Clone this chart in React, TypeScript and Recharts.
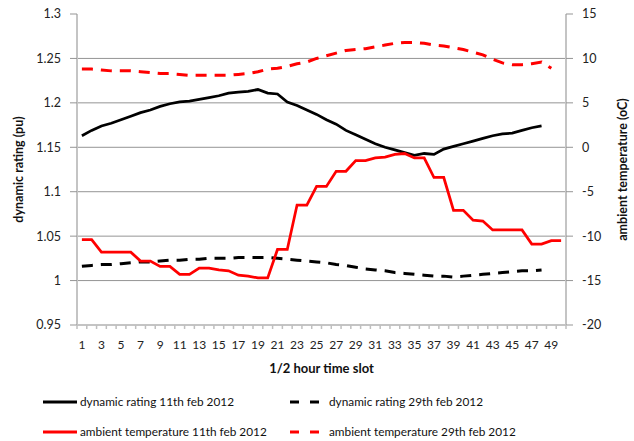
import React from 'react'
import { LineChart, Line, XAxis, YAxis, CartesianGrid, Legend } from 'recharts'

const FONT = 'Lato, "Open Sans", sans-serif'

// half-hour slots 1..50
const slots = [
  1, 2, 3, 4, 5, 6, 7, 8, 9, 10, 11, 12, 13, 14, 15, 16, 17, 18, 19, 20, 21, 22, 23, 24, 25,
  26, 27, 28, 29, 30, 31, 32, 33, 34, 35, 36, 37, 38, 39, 40, 41, 42, 43, 44, 45, 46, 47, 48, 49, 50,
]

// dynamic rating (pu)
const ratingFeb11 = [
  1.163, 1.169, 1.174, 1.177, 1.181, 1.185, 1.189, 1.192, 1.196, 1.199, 1.201, 1.202, 1.204, 1.206,
  1.208, 1.211, 1.212, 1.213, 1.215, 1.211, 1.21, 1.201, 1.197, 1.192, 1.187, 1.181, 1.176, 1.169,
  1.164, 1.159, 1.154, 1.15, 1.147, 1.144, 1.141, 1.143, 1.142, 1.148, 1.151, 1.154, 1.157, 1.16,
  1.163, 1.165, 1.166, 1.169, 1.172, 1.174,
]
const ratingFeb29 = [
  1.016, 1.017, 1.018, 1.018, 1.019, 1.02, 1.021, 1.021, 1.022, 1.023, 1.023, 1.024, 1.024, 1.025,
  1.025, 1.025, 1.026, 1.026, 1.026, 1.026, 1.025, 1.024, 1.023, 1.022, 1.021, 1.02, 1.018, 1.017,
  1.015, 1.013, 1.012, 1.011, 1.009, 1.008, 1.007, 1.006, 1.005, 1.005, 1.004, 1.005, 1.006, 1.007,
  1.008, 1.009, 1.01, 1.011, 1.011, 1.012,
]

// ambient temperature (oC)
const tempFeb11 = [
  -10.4, -10.4, -11.8, -11.8, -11.8, -11.8, -12.8, -12.8, -13.4, -13.4, -14.3, -14.3, -13.6, -13.6,
  -13.8, -13.9, -14.4, -14.5, -14.7, -14.7, -11.5, -11.5, -6.5, -6.5, -4.4, -4.4, -2.7, -2.7, -1.5,
  -1.5, -1.2, -1.1, -0.8, -0.7, -1.2, -1.2, -3.4, -3.4, -7.1, -7.1, -8.2, -8.3, -9.3, -9.3, -9.3,
  -9.3, -10.9, -10.9, -10.5, -10.5,
]
const tempFeb29 = [
  8.8, 8.8, 8.7, 8.6, 8.6, 8.6, 8.5, 8.4, 8.3, 8.3, 8.2, 8.1, 8.1, 8.1, 8.1, 8.1, 8.2, 8.3, 8.5, 8.8,
  8.9, 9.1, 9.4, 9.6, 10.0, 10.3, 10.6, 10.9, 11.0, 11.1, 11.3, 11.5, 11.7, 11.8, 11.8, 11.7, 11.5,
  11.4, 11.2, 11.0, 10.7, 10.4, 9.9, 9.5, 9.3, 9.3, 9.4, 9.6, 8.9,
]

const ratingTicks = [0.95, 1, 1.05, 1.1, 1.15, 1.2, 1.25, 1.3]
const tempTicks = [-20, -15, -10, -5, 0, 5, 10, 15]

const data = slots.map((s, i) => ({
  slot: s,
  r11: ratingFeb11[i],
  r29: ratingFeb29[i],
  t11: tempFeb11[i],
  t29: tempFeb29[i],
}))

const legendItems = [
  { name: 'dynamic rating 11th feb 2012', color: '#000', dashed: false },
  { name: 'dynamic rating 29th feb 2012', color: '#000', dashed: true },
  { name: 'ambient temperature 11th feb 2012', color: '#ff0000', dashed: false },
  { name: 'ambient temperature 29th feb 2012', color: '#ff0000', dashed: true },
]

const W = 634
const H = 441
const PLOT_W = 489
const BAND = PLOT_W / slots.length

function SlotTick(props: any) {
  const { x, y, payload, index } = props
  const top = y - 8
  const left = x - BAND / 2
  return (
    <g>
      <line x1={left} x2={left} y1={top} y2={top + 4} stroke="#bfbfbf" strokeWidth={1.5} />
      {index === slots.length - 1 && (
        <line x1={x + BAND / 2} x2={x + BAND / 2} y1={top} y2={top + 4} stroke="#bfbfbf" strokeWidth={1.5} />
      )}
      {index % 2 === 0 && (
        <text x={x} y={y + 11} textAnchor="middle" dominantBaseline="central" fontSize={12} fill="#222" fontFamily={FONT}>
          {payload.value}
        </text>
      )}
    </g>
  )
}

function VerticalTitle(props: any) {
  const { viewBox, value, dx } = props
  const cx = viewBox.x + dx
  const cy = viewBox.y + viewBox.height / 2
  return (
    <text
      x={cx}
      y={cy}
      transform={`rotate(-90 ${cx} ${cy})`}
      textAnchor="middle"
      dominantBaseline="central"
      fontSize={12.5}
      fontWeight="bold"
      fill="#111"
      fontFamily={FONT}
    >
      {value}
    </text>
  )
}

function GridLine(props: any) {
  const { x1, x2, y1, y2 } = props
  if (y1 < 20) return <g />
  return <line x1={x1} x2={x2} y1={y1} y2={y2} stroke="#959595" strokeWidth={1} />
}

function LegendBox() {
  return (
    <div style={{ position: 'relative', width: W, height: 56, fontFamily: FONT, fontSize: 11.8, color: '#111' }}>
      {legendItems.map((item, i) => {
        const col = i % 2
        const row = Math.floor(i / 2)
        const lineX = col === 0 ? 43 : 290
        const lineW = col === 0 ? 34 : 30
        const textX = col === 0 ? 80 : 329
        const cy = row === 0 ? 17 : 47
        return (
          <div key={item.name}>
            <svg style={{ position: 'absolute', left: lineX, top: cy - 3 }} width={lineW} height={6}>
              <line
                x1={0}
                x2={lineW}
                y1={3}
                y2={3}
                stroke={item.color}
                strokeWidth={3}
                strokeDasharray={item.dashed ? '9 11' : undefined}
              />
            </svg>
            <span style={{ position: 'absolute', left: textX, top: cy - 9, lineHeight: '18px', whiteSpace: 'nowrap' }}>
              {item.name}
            </span>
          </div>
        )
      })}
    </div>
  )
}

export default function App() {
  return (
    <div style={{ position: 'absolute', left: 0, top: 0, background: '#fff' }}>
      <LineChart width={W} height={H} data={data} margin={{ top: 14, right: 0, bottom: 0, left: 0 }}>
        <CartesianGrid vertical={false} horizontal={<GridLine />} yAxisId="left" />
        <XAxis
          dataKey="slot"
          interval={0}
          height={60}
          padding={{ left: BAND / 2, right: BAND / 2 }}
          tickLine={false}
          tick={<SlotTick />}
          axisLine={{ stroke: '#c4c4c4', strokeWidth: 2 }}
          label={{
            value: '1/2 hour time slot',
            position: 'insideBottom',
            offset: 12,
            fontSize: 13,
            fontWeight: 'bold',
            fill: '#111',
            fontFamily: FONT,
          }}
        />
        <YAxis
          yAxisId="left"
          width={77}
          domain={[0.95, 1.3]}
          ticks={ratingTicks}
          interval={0}
          tickSize={7}
          tickMargin={9}
          axisLine={{ stroke: '#c4c4c4', strokeWidth: 2 }}
          tickLine={{ stroke: '#959595' }}
          tick={{ fontSize: 12.5, fill: '#222', fontFamily: FONT }}
          label={<VerticalTitle value="dynamic rating (pu)" dx={18} />}
        />
        <YAxis
          yAxisId="right"
          orientation="right"
          width={68}
          domain={[-20, 15]}
          ticks={tempTicks}
          interval={0}
          tickSize={7}
          tickMargin={9}
          axisLine={{ stroke: '#c4c4c4', strokeWidth: 2 }}
          tickLine={{ stroke: '#959595' }}
          tick={{ fontSize: 12.5, fill: '#222', fontFamily: FONT, textAnchor: 'start' }}
          label={<VerticalTitle value="ambient temperature (oC)" dx={56} />}
        />
        <Legend verticalAlign="bottom" height={56} wrapperStyle={{ left: 0, width: W }} content={<LegendBox />} />
        <Line yAxisId="left" type="linear" dataKey="r11" name="dynamic rating 11th feb 2012" stroke="#000" strokeWidth={2.75} dot={false} isAnimationActive={false} />
        <Line yAxisId="left" type="linear" dataKey="r29" name="dynamic rating 29th feb 2012" stroke="#000" strokeWidth={3} strokeDasharray="11 8" dot={false} isAnimationActive={false} />
        <Line yAxisId="right" type="linear" dataKey="t11" name="ambient temperature 11th feb 2012" stroke="#ff0000" strokeWidth={2.75} dot={false} isAnimationActive={false} />
        <Line yAxisId="right" type="linear" dataKey="t29" name="ambient temperature 29th feb 2012" stroke="#ff0000" strokeWidth={3} strokeDasharray="11 8" dot={false} isAnimationActive={false} />
      </LineChart>
    </div>
  )
}
